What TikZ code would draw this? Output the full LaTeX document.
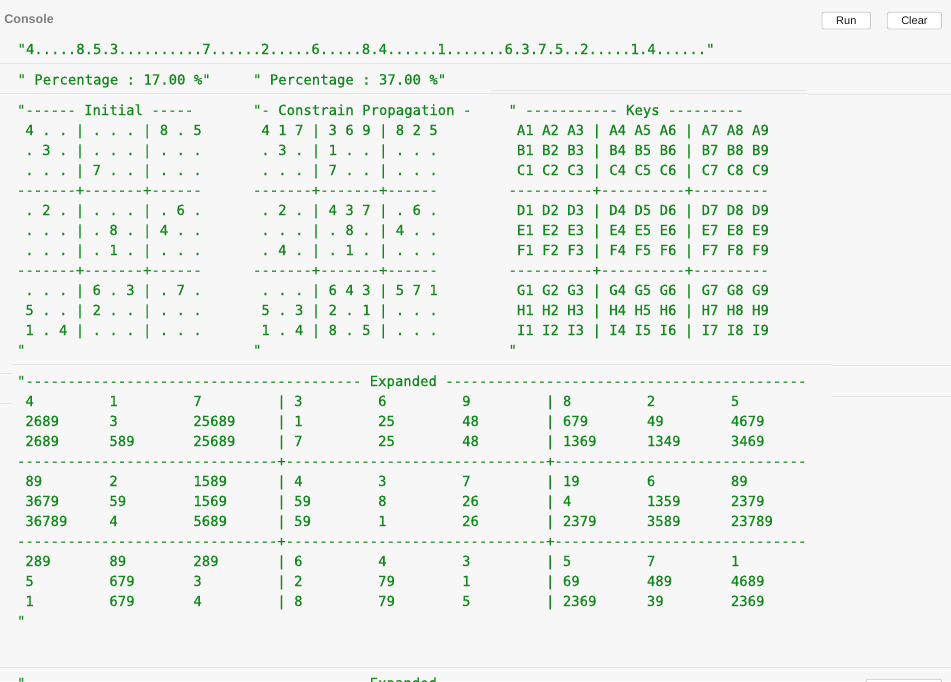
\documentclass[tikz,border=0pt]{standalone}
\usepackage{fontspec}
\newfontfamily\monofam{DejaVu Sans Mono}[Ligatures=TeXOff,FakeBold=0.5]
\newfontfamily\uifam{Liberation Sans}
\definecolor{cgreen}{RGB}{20,136,30}
\definecolor{bgc}{RGB}{247,247,247}
\definecolor{rulec}{RGB}{228,228,228}
\definecolor{btnline}{RGB}{200,200,200}
\definecolor{titlec}{RGB}{125,125,125}
\newlength\cwid
\ExplSyntaxOn
\cs_new:Npn \repch #1#2 { \prg_replicate:nn {#1} {#2} }
\ExplSyntaxOff
\newcommand\ec[1]{\makebox[10\cwid][l]{#1}}
\newcommand\erow[9]{\settowidth\cwid{0}~\ec{#1}\ec{#2}\ec{#3}|~\ec{#4}\ec{#5}\ec{#6}|~\ec{#7}\ec{#8}#9}
\tikzset{
  mono/.style={anchor=base west,inner sep=0pt,outer sep=0pt,text=cgreen,font=\monofam\fontsize{13.95}{20}\selectfont},
  rulel/.style={draw=rulec,line width=1pt},
  btn/.style={draw=btnline,fill=white,rounded corners=2pt,line width=0.8pt},
  btntext/.style={inner sep=0pt,font=\uifam\fontsize{11}{13}\selectfont,text=black!90}
}
\begin{document}
\begin{tikzpicture}[x=1pt,y=-1pt]
\useasboundingbox (0,0) rectangle (951,681);
\clip (0,0) rectangle (951,681);
\fill[bgc] (0,0) rectangle (951,681);
% separators
\draw[rulel] (0,63.3) -- (951,63.3);
\draw[rulel] (491,90.7) -- (807,90.7);
\draw[rulel] (0,93.5) -- (808,93.5);
\draw[rulel] (808,94.3) -- (951,94.3);
\draw[rulel] (12,364.3) -- (832,364.3);
\draw[rulel] (832,365.7) -- (951,365.7);
\draw[rulel] (832,396.7) -- (951,396.7);
\draw[rulel] (0,373.3) -- (12,373.3);
\draw[rulel] (0,403.3) -- (12,403.3);
\draw[rulel] (0,667) -- (951,667);
% header
\node[anchor=base west,inner sep=0pt,text=titlec,font=\uifam\bfseries\fontsize{12.5}{15}\selectfont] (title) at (4.2,23.3) {Console};
\draw[btn] (822,12.3) rectangle (870.5,29);
\node[btntext] (run) at (846.3,20.7) {Run};
\draw[btn] (887.3,12.3) rectangle (941.5,29);
\node[btntext] (clear) at (914.4,20.7) {Clear};
% top lines
\node[mono] (str) at (17.5,54) {"4.....8.5.3..........7......2.....6.....8.4......1.......6.3.7.5..2.....1.4......"};
\node[mono] (p1) at (17.5,84.5) {"~Percentage~:~17.00~\%"};
\node[mono] (p2) at (253,84.5) {"~Percentage~:~37.00~\%"};
% Initial
\node[mono] (i0) at (17,115) {"------~Initial~-----};
\node[mono] (i1) at (17,135) {~4~.~.~|~.~.~.~|~8~.~5};
\node[mono] (i2) at (17,155) {~.~3~.~|~.~.~.~|~.~.~.};
\node[mono] (i3) at (17,175) {~.~.~.~|~7~.~.~|~.~.~.};
\node[mono] (i4) at (17,195) {-------+-------+------};
\node[mono] (i5) at (17,215) {~.~2~.~|~.~.~.~|~.~6~.};
\node[mono] (i6) at (17,235) {~.~.~.~|~.~8~.~|~4~.~.};
\node[mono] (i7) at (17,255) {~.~.~.~|~.~1~.~|~.~.~.};
\node[mono] (i8) at (17,275) {-------+-------+------};
\node[mono] (i9) at (17,295) {~.~.~.~|~6~.~3~|~.~7~.};
\node[mono] (i10) at (17,315) {~5~.~.~|~2~.~.~|~.~.~.};
\node[mono] (i11) at (17,335) {~1~.~4~|~.~.~.~|~.~.~.};
\node[mono] (i12) at (17,355) {"};
% Constrain propagation
\node[mono] (c0) at (253,115) {"-~Constrain~Propagation~-};
\node[mono] (c1) at (253,135) {~4~1~7~|~3~6~9~|~8~2~5};
\node[mono] (c2) at (253,155) {~.~3~.~|~1~.~.~|~.~.~.};
\node[mono] (c3) at (253,175) {~.~.~.~|~7~.~.~|~.~.~.};
\node[mono] (c4) at (253,195) {-------+-------+------};
\node[mono] (c5) at (253,215) {~.~2~.~|~4~3~7~|~.~6~.};
\node[mono] (c6) at (253,235) {~.~.~.~|~.~8~.~|~4~.~.};
\node[mono] (c7) at (253,255) {~.~4~.~|~.~1~.~|~.~.~.};
\node[mono] (c8) at (253,275) {-------+-------+------};
\node[mono] (c9) at (253,295) {~.~.~.~|~6~4~3~|~5~7~1};
\node[mono] (c10) at (253,315) {~5~.~3~|~2~.~1~|~.~.~.};
\node[mono] (c11) at (253,335) {~1~.~4~|~8~.~5~|~.~.~.};
\node[mono] (c12) at (253,355) {"};
% Keys
\node[mono] (k0) at (508.5,115) {"~-----------~Keys~---------};
\node[mono] (k1) at (508.5,135) {~A1~A2~A3~|~A4~A5~A6~|~A7~A8~A9};
\node[mono] (k2) at (508.5,155) {~B1~B2~B3~|~B4~B5~B6~|~B7~B8~B9};
\node[mono] (k3) at (508.5,175) {~C1~C2~C3~|~C4~C5~C6~|~C7~C8~C9};
\node[mono] (k4) at (508.5,195) {----------+----------+---------};
\node[mono] (k5) at (508.5,215) {~D1~D2~D3~|~D4~D5~D6~|~D7~D8~D9};
\node[mono] (k6) at (508.5,235) {~E1~E2~E3~|~E4~E5~E6~|~E7~E8~E9};
\node[mono] (k7) at (508.5,255) {~F1~F2~F3~|~F4~F5~F6~|~F7~F8~F9};
\node[mono] (k8) at (508.5,275) {----------+----------+---------};
\node[mono] (k9) at (508.5,295) {~G1~G2~G3~|~G4~G5~G6~|~G7~G8~G9};
\node[mono] (k10) at (508.5,315) {~H1~H2~H3~|~H4~H5~H6~|~H7~H8~H9};
\node[mono] (k11) at (508.5,335) {~I1~I2~I3~|~I4~I5~I6~|~I7~I8~I9};
\node[mono] (k12) at (508.5,355) {"};
% Expanded
\node[mono] (e0) at (17,386) {"\repch{40}{-}~Expanded~\repch{43}{-}};
\node[mono] (e1) at (17,406) {\erow{4}{1}{7}{3}{6}{9}{8}{2}{5}};
\node[mono] (e2) at (17,426) {\erow{2689}{3}{25689}{1}{25}{48}{679}{49}{4679}};
\node[mono] (e3) at (17,446) {\erow{2689}{589}{25689}{7}{25}{48}{1369}{1349}{3469}};
\node[mono] (e4) at (17,466) {\repch{31}{-}+\repch{31}{-}+\repch{30}{-}};
\node[mono] (e5) at (17,486) {\erow{89}{2}{1589}{4}{3}{7}{19}{6}{89}};
\node[mono] (e6) at (17,506) {\erow{3679}{59}{1569}{59}{8}{26}{4}{1359}{2379}};
\node[mono] (e7) at (17,526) {\erow{36789}{4}{5689}{59}{1}{26}{2379}{3589}{23789}};
\node[mono] (e8) at (17,546) {\repch{31}{-}+\repch{31}{-}+\repch{30}{-}};
\node[mono] (e9) at (17,566) {\erow{289}{89}{289}{6}{4}{3}{5}{7}{1}};
\node[mono] (e10) at (17,586) {\erow{5}{679}{3}{2}{79}{1}{69}{489}{4689}};
\node[mono] (e11) at (17,606) {\erow{1}{679}{4}{8}{79}{5}{2369}{39}{2369}};
\node[mono] (e12) at (17,626) {"};
% next block, cut off at the bottom
\node[mono] (n0) at (17,688) {"\repch{40}{-}~Expanded~\repch{43}{-}};
\draw[btn] (866,679.3) rectangle (941.5,700);
\end{tikzpicture}
\end{document}
